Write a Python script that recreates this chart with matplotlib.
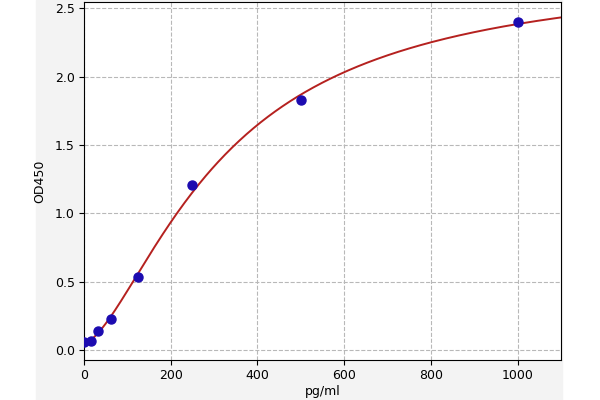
import numpy as np
import matplotlib
matplotlib.use("Agg")
import matplotlib.pyplot as plt
from matplotlib.patches import Rectangle

# standards
conc = np.array([0, 15.6, 31.25, 62.5, 125, 250, 500, 1000])
od450 = np.array([0.058, 0.068, 0.139, 0.227, 0.534, 1.206, 1.827, 2.398])


def logistic4(x, a, b, c, d):
    return d + (a - d) / (1 + (x / c) ** b)


# 4-parameter logistic fit of the standards (grid over b, c; linear solve for a, d)
best = None
for b in np.linspace(0.8, 3.0, 221):
    for c in np.geomspace(50, 3000, 300):
        f = 1 / (1 + (conc / c) ** b)
        A = np.column_stack([f, 1 - f])
        coef, *_ = np.linalg.lstsq(A, od450, rcond=None)
        sse = np.sum((A @ coef - od450) ** 2)
        if best is None or sse < best[0]:
            best = (sse, coef[0], b, c, coef[1])
_, a, b, c, d = best

xs = np.linspace(0, 1100, 400)

plt.rcParams["font.size"] = 9
fig = plt.figure(figsize=(6, 4), dpi=100, facecolor="white")
fig.patches.append(Rectangle((0.06, 0), 0.877, 1, transform=fig.transFigure,
                             color="#f3f3f3", zorder=-10))
ax = fig.add_axes([0.14, 0.1, 0.795, 0.895])
ax.set_facecolor("white")
ax.plot(xs, logistic4(xs, a, b, c, d), color="#b5211f", lw=1.4, zorder=2)
ax.plot(conc, od450, "o", color="#1c0bb0", markersize=6.5, zorder=3)
ax.set_xlim(0, 1100)
ax.set_ylim(-0.073, 2.545)
ax.set_xticks([0, 200, 400, 600, 800, 1000])
ax.set_yticks([0.0, 0.5, 1.0, 1.5, 2.0, 2.5])
ax.tick_params(pad=3)
ax.grid(True, ls="--", color="#b8b8b8", lw=0.8)
ax.set_axisbelow(True)
ax.set_xlabel("pg/ml", labelpad=2)
ax.set_ylabel("OD450", labelpad=6)
fig.savefig("out.png", dpi=100, facecolor=fig.get_facecolor())
